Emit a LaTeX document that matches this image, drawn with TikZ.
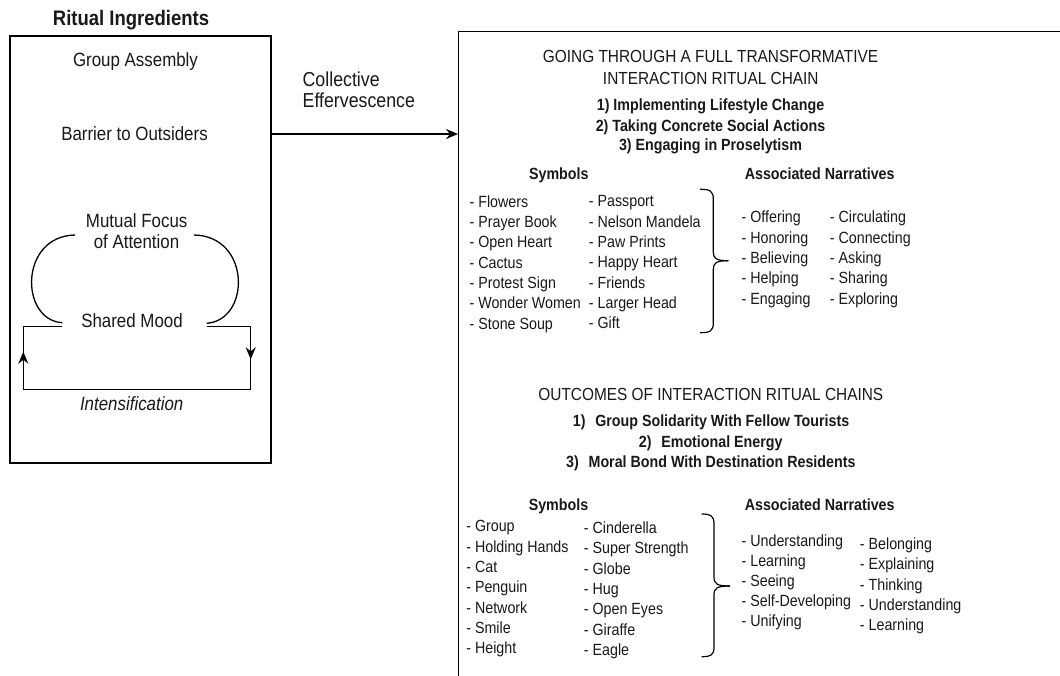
\documentclass[tikz,border=0pt]{standalone}
\usepackage{fontspec}
\setmainfont{Liberation Sans}[FakeStretch=0.88]
\usetikzlibrary{arrows.meta}
\begin{document}
\begin{tikzpicture}[x=1pt,y=-1pt,line width=1.3pt,
  every node/.style={inner sep=0pt,text=black!90},
  ttl/.style={anchor=base,font=\fontsize{21}{25}\selectfont\bfseries},
  lt/.style={anchor=base,font=\fontsize{19.2}{23}\selectfont},
  ce/.style={anchor=base west,font=\fontsize{20.2}{24}\selectfont},
  hd/.style={anchor=base,font=\fontsize{17.5}{21}\selectfont},
  bd/.style={anchor=base,font=\fontsize{16.2}{20}\selectfont\bfseries},
  lst/.style={anchor=base west,font=\fontsize{16.2}{20}\selectfont},
  tip/.style={-{Stealth[length=12pt,width=10pt,inset=4pt]}},
  boxx/.style={draw,line width=1.4pt}]
\clip (0,0) rectangle (1060,675);
\fill[white] (0,0) rectangle (1060,675);

% ---------- left box ----------
\node[boxx,minimum width=261pt,minimum height=427pt] (lbox) at (140.5,249.5) {};
\node[ttl] (title) at (131,25.7) {Ritual Ingredients};
\node[lt] (ga) at (135.5,66.7) {Group Assembly};
\node[lt] (bo) at (134.5,140) {Barrier to Outsiders};
\node[lt] (mf1) at (136.7,227.7) {Mutual Focus};
\node[lt] (mf2) at (136.5,248.3) {of Attention};
\node[lt] (sm) at (132,327.3) {Shared Mood};
\node[lt,font=\fontsize{19.2}{23}\selectfont\itshape] (int) at (131.7,410) {Intensification};

% arcs
\coordinate (aL1) at (75,235);
\coordinate (aL2) at (62.3,322.7);
\coordinate (aR1) at (194,235);
\coordinate (aR2) at (206.7,323.3);
\draw (aL1) .. controls (19.4,236) and (19.4,320) .. (aL2);
\draw (aR1) .. controls (250.9,236) and (250.9,320) .. (aR2);

% feedback loop
\coordinate (sL) at (62.3,326.7);
\coordinate (sR) at (206.7,326.7);
\coordinate (cR1) at (250.7,326.7);
\coordinate (cR2) at (250.7,389.3);
\coordinate (cL2) at (23.3,389.3);
\coordinate (cL1) at (23.3,326.7);
\coordinate (mR) at (250.7,359.3);
\coordinate (mL) at (23.3,351.7);
\draw (sR) -- (cR1) -- (cR2) -- (cL2) -- (cL1) -- (sL);
\draw[tip] (cR1) -- (mR);
\draw[tip] (cL2) -- (mL);

% ---------- right box ----------
\node[boxx,anchor=north west,minimum width=700pt,minimum height=700pt] (rbox) at (458,31) {};

% connector
\coordinate (ay) at (0,134);
\draw[tip] (lbox.east |- ay) -- (rbox.west |- ay);
\node[ce] (ce1) at (302,86.5) {Collective};
\node[ce] (ce2) at (302,107.3) {Effervescence};

% ---------- section 1 ----------
\node[hd] (h1a) at (710.5,62.7) {GOING THROUGH A FULL TRANSFORMATIVE};
\node[hd] (h1b) at (710.8,84.3) {INTERACTION RITUAL CHAIN};
\node[bd] (b11) at (710.5,110.7) {1) Implementing Lifestyle Change};
\node[bd] (b12) at (710.5,131) {2) Taking Concrete Social Actions};
\node[bd] (b13) at (710.5,150.7) {3) Engaging in Proselytism};
\node[bd] (sym1) at (558.8,179.3) {Symbols};
\node[bd] (nar1) at (819.7,179.3) {Associated Narratives};
\foreach \t [count=\i] in {Flowers,Prayer Book,Open Heart,Cactus,Protest Sign,Wonder Women,Stone Soup}
  \node[lst] (sa\i) at (469,{207.3+20.33*(\i-1)}) {- \t};
\foreach \t [count=\i] in {Passport,Nelson Mandela,Paw Prints,Happy Heart,Friends,Larger Head,Gift}
  \node[lst] (sb\i) at (588.3,{206.9+20.33*(\i-1)}) {- \t};
\foreach \t [count=\i] in {Offering,Honoring,Believing,Helping,Engaging}
  \node[lst] (na\i) at (741,{222.7+20.4*(\i-1)}) {- \t};
\foreach \t [count=\i] in {Circulating,Connecting,Asking,Sharing,Exploring}
  \node[lst] (nb\i) at (829.3,{222.7+20.4*(\i-1)}) {- \t};
% brace 1
\draw[line width=1.2pt] (700,189.3) .. controls (710,189.3) and (713.3,191) .. (713.3,199) -- (713.3,252)
   .. controls (713.3,258.5) and (716,260.7) .. (728.3,260.7);
\draw[line width=1.2pt] (700,332.7) .. controls (710,332.7) and (713.3,331) .. (713.3,323) -- (713.3,269.5)
   .. controls (713.3,263) and (716,260.7) .. (728.3,260.7);

% ---------- section 2 ----------
\node[hd] (h2) at (710.8,400.7) {OUTCOMES OF INTERACTION RITUAL CHAINS};
\node[bd] (b21) at (711,426.7) {\makebox[22.5pt][l]{1)}Group Solidarity With Fellow Tourists};
\node[bd] (b22) at (710.7,447.3) {\makebox[22.5pt][l]{2)}Emotional Energy};
\node[bd] (b23) at (710.8,467.3) {\makebox[22.5pt][l]{3)}Moral Bond With Destination Residents};
\node[bd] (sym2) at (558.5,510.7) {Symbols};
\node[bd] (nar2) at (819.7,510.7) {Associated Narratives};
\foreach \t [count=\i] in {Group,Holding Hands,Cat,Penguin,Network,Smile,Height}
  \node[lst] (ta\i) at (465.7,{531.7+20.33*(\i-1)}) {- \t};
\foreach \t [count=\i] in {Cinderella,Super Strength,Globe,Hug,Open Eyes,Giraffe,Eagle}
  \node[lst] (tb\i) at (583.3,{533.5+20.33*(\i-1)}) {- \t};
\foreach \t [count=\i] in {Understanding,Learning,Seeing,Self-Developing,Unifying}
  \node[lst] (ma\i) at (741,{546+20.2*(\i-1)}) {- \t};
\foreach \t [count=\i] in {Belonging,Explaining,Thinking,Understanding,Learning}
  \node[lst] (mb\i) at (859.3,{549.5+20.3*(\i-1)}) {- \t};
% brace 2
\draw[line width=1.2pt] (701.7,514) .. controls (711,514) and (714,516) .. (714,524) -- (714,577)
   .. controls (714,584) and (717,586) .. (730,586);
\draw[line width=1.2pt] (701.7,656.7) .. controls (711,656.7) and (714,655) .. (714,647) -- (714,595)
   .. controls (714,588) and (717,586) .. (730,586);
\end{tikzpicture}
\end{document}
